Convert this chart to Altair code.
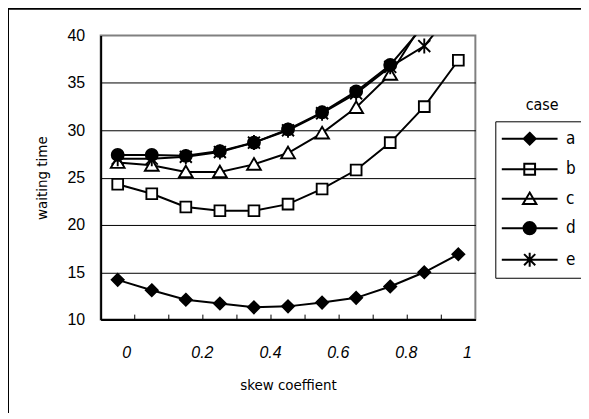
import altair as alt
import pandas as pd

# ---- data ----
x_values = [0.0, 0.1, 0.2, 0.3, 0.4, 0.5, 0.6, 0.7, 0.8, 0.9, 1.0]
case_names = ["a", "b", "c", "d", "e"]
series_a = [14.2, 13.1, 12.1, 11.7, 11.3, 11.4, 11.8, 12.3, 13.5, 15.0, 16.9]
series_b = [24.3, 23.3, 21.9, 21.5, 21.5, 22.2, 23.8, 25.8, 28.7, 32.5, 37.4]
series_c = [26.6, 26.3, 25.6, 25.6, 26.4, 27.6, 29.7, 32.4, 35.9, 41.6, 47.5]
series_d = [27.4, 27.4, 27.3, 27.8, 28.7, 30.1, 31.9, 34.1, 36.9, 41.1, 46.5]
series_e = [27.0, 27.0, 27.2, 27.7, 28.7, 30.0, 31.8, 33.9, 36.7, 38.9, 43.3]

x_label_positions = [0.025, 0.247, 0.447, 0.646, 0.846, 1.025]
x_label_text = ["0", "0.2", "0.4", "0.6", "0.8", "1"]
x_tick_positions = [0.05, 0.15, 0.25, 0.35, 0.45, 0.55, 0.65, 0.75, 0.85, 0.95]
y_tick_values = [10, 15, 20, 25, 30, 35, 40]
x_title = "skew coeffient"
y_title = "waiting time"
legend_title = "case"

# ---- styling ----
W, H = 376, 285
x_dom = [-0.05, 1.05]
y_dom = [10, 40]
NARROW = "Liberation Sans Narrow, DejaVu Sans Condensed, Roboto Condensed, Liberation Sans, sans-serif"
ARIAL = "Liberation Sans, Arial, sans-serif"

marker_paths = [
    "M0,-1L1,0L0,1L-1,0Z",                      # a diamond
    "M-0.9,-0.9H0.9V0.9H-0.9Z",                 # b square
    "M0,-1.05L1.15,0.9H-1.15Z",                 # c triangle
    "circle",                                   # d circle
    "M-1,-1L1,1M1,-1L-1,1M0,-1.25V1.25",        # e asterisk
]
fill_colors = ["black", "white", "white", "black", "white"]
stroke_colors = ["black"] * 5

legend_paths = [
    "M-3,0H3M0,-0.64L0.64,0L0,0.64L-0.64,0Z",
    "M-3,0H3M-0.58,-0.58H0.58V0.58H-0.58Z",
    "M-3,0H3M0,-0.66L0.72,0.56H-0.72Z",
    "M-3,0H3M-0.66,0A0.66,0.66 0 1,0 0.66,0A0.66,0.66 0 1,0 -0.66,0Z",
    "M-3,0H3M-0.6,-0.6L0.6,0.6M0.6,-0.6L-0.6,0.6M0,-0.75V0.75",
]

series = {"a": series_a, "b": series_b, "c": series_c, "d": series_d, "e": series_e}
draw_order = ["a", "b", "c", "e", "d"]
rows = []
for name in draw_order:
    for xv, yv in zip(x_values, series[name]):
        rows.append({"x": xv, "value": yv, "case": name})
df = pd.DataFrame(rows)
tick_df = pd.DataFrame({"x": x_tick_positions})

label_expr = (
    "[" + ",".join("'%s'" % t for t in x_label_text) + "]"
    + "[indexof([" + ",".join(str(v) for v in x_label_positions) + "], datum.value)]"
)

x_enc = alt.X(
    "x:Q",
    scale=alt.Scale(domain=x_dom, nice=False, zero=False),
    axis=alt.Axis(
        values=x_label_positions, labelExpr=label_expr, ticks=False, grid=False,
        domainColor="black", domainWidth=2,
        labelFont=ARIAL, labelFontStyle="italic", labelFontSize=16, labelColor="black",
        labelPadding=33, labelBaseline="middle", labelFlush=False, labelOverlap=False,
        title=x_title, titleFont=NARROW, titleFontSize=15, titleFontWeight="normal",
        titleColor="black", titleX=W / 2, titleY=65, titleAlign="center", titleBaseline="middle",
    ),
)
y_enc = alt.Y(
    "value:Q",
    scale=alt.Scale(domain=y_dom, nice=False, zero=False),
    axis=alt.Axis(
        values=y_tick_values, grid=True, gridColor="black", gridWidth=1,
        gridOpacity={"condition": {"test": "datum.value >= 40", "value": 0}, "value": 1},
        ticks=False, domainColor="black", domainWidth=2,
        labelFont=ARIAL, labelFontSize=16, labelColor="black", labelPadding=16,
        title=y_title, titleFont=NARROW, titleFontSize=15, titleFontWeight="normal",
        titleColor="black", titleX=-59, titleY=H / 2, titleAngle=-90,
        titleAlign="center", titleBaseline="middle",
    ),
)

frame = alt.Chart(pd.DataFrame({"k": [0]})).mark_rect(
    fillOpacity=0, stroke="black", strokeWidth=2
).encode(x=alt.value(-93), y=alt.value(-27), x2=alt.value(560), y2=alt.value(420))

base = alt.Chart(df).encode(x=x_enc, y=y_enc)

lines = base.mark_line(color="black", strokeWidth=2, clip=True).encode(detail="case:N")

points = base.mark_point(
    filled=True, size=144, strokeWidth=1.9, opacity=1, clip=True
).encode(
    shape=alt.Shape("case:N", scale=alt.Scale(domain=case_names, range=marker_paths), legend=None),
    fill=alt.Fill("case:N", scale=alt.Scale(domain=case_names, range=fill_colors), legend=None),
    stroke=alt.Stroke("case:N", scale=alt.Scale(domain=case_names, range=stroke_colors), legend=None),
)

inner_ticks = alt.Chart(tick_df).mark_rule(color="black", strokeWidth=1).encode(
    x=x_enc, y=alt.value(H), y2=alt.value(H - 5)
)

legend_props = dict(
    title=None, orient="none", legendX=396, legendY=86,
    strokeColor="black", fillColor="white", padding=7, rowPadding=9.6,
    symbolSize=348, symbolStrokeWidth=2, symbolOpacity=1,
    symbolOffset=17, labelOffset=26, labelFont=NARROW, labelFontSize=17,
    labelColor="black", labelBaseline="middle",
)

legend_layer = alt.Chart(df).mark_point(filled=True, opacity=0, strokeWidth=2).encode(
    x=alt.value(0),
    y=alt.value(0),
    shape=alt.Shape("case:N", scale=alt.Scale(domain=case_names, range=legend_paths),
                    legend=alt.Legend(**legend_props)),
    fill=alt.Fill("case:N", scale=alt.Scale(domain=case_names, range=fill_colors),
                  legend=alt.Legend(**legend_props)),
    stroke=alt.Stroke("case:N", scale=alt.Scale(domain=case_names, range=stroke_colors),
                      legend=alt.Legend(**legend_props)),
)

case_text = alt.Chart(pd.DataFrame({"t": [legend_title]})).mark_text(
    font=NARROW, fontSize=16, align="center", baseline="middle", color="black"
).encode(x=alt.value(443), y=alt.value(70), text="t:N")

chart = (
    alt.layer(frame, lines, inner_ticks, points, legend_layer, case_text)
    .resolve_scale(shape="independent", fill="independent", stroke="independent")
    .properties(
        width=W, height=H,
        autosize=alt.AutoSizeParams(type="none"),
        padding={"left": 93, "top": 27, "right": 106, "bottom": 93},
        background="white",
    )
    .configure_view(stroke="#808080", strokeWidth=2)
)

chart.save("out.html", embed_options={"renderer": "svg", "actions": False})
